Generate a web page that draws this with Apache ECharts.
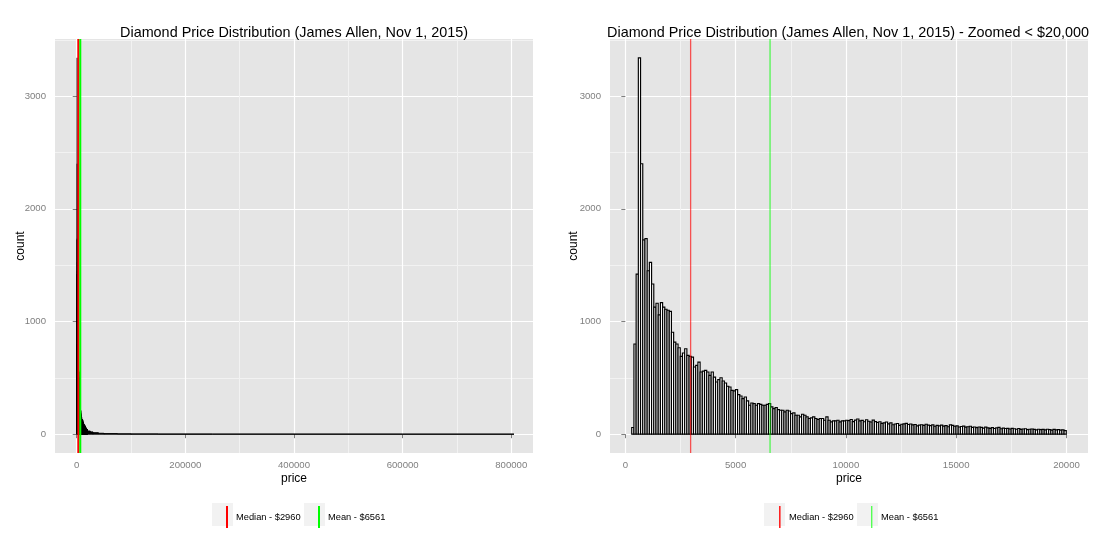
<!DOCTYPE html>
<html><head><meta charset="utf-8">
<script src="https://cdn.jsdelivr.net/npm/echarts@6/dist/echarts.min.js"></script>
<style>html,body{margin:0;padding:0;background:#fff}#c{width:1107px;height:552px}</style>
</head><body><div id="c"></div>
<script>
// ---- data ----
const BIN_ORIGIN = 290, BIN_WIDTH = 100;
// counts per $100 bin starting at BIN_ORIGIN (prices < $20,000)
const counts = [
  59, 800, 1420, 3340, 2400, 1725, 1735, 1450, 1525, 1333,
  1127, 1162, 1059, 1168, 1127, 1109, 1100, 1090, 905, 817,
  800, 767, 690, 720, 758, 700, 690, 684, 596, 610,
  640, 552, 560, 566, 552, 522, 552, 507, 463, 484,
  501, 472, 454, 425, 419, 389, 384, 395, 351, 339,
  316, 330, 295, 257, 277, 271, 257, 271, 265, 257,
  257, 265, 271, 242, 227, 236, 218, 212, 212, 198,
  212, 206, 183, 189, 168, 168, 153, 177, 168, 153,
  139, 145, 153, 139, 130, 139, 139, 124, 153, 124,
  109, 118, 118, 124, 109, 118, 118, 124,
  120, 130, 112, 125, 135, 118, 122, 110, 128, 115, 108, 125, 112,
  104, 110, 96, 100, 108, 92, 100, 84, 90, 95, 78, 88, 92, 96, 86,
  90, 82, 86, 74, 80, 84, 78, 88, 80, 76, 82, 70, 78, 74, 80,
  72, 76, 66, 82, 78, 70, 74, 64, 68, 72, 62, 66, 70, 60, 64,
  58, 64, 60, 54, 62, 56, 52, 58, 50, 56, 60, 48, 54, 50, 52,
  46, 52, 48, 44, 50, 42, 46, 48, 40, 44, 46, 42, 38, 44, 40,
  42, 38, 44, 40, 36, 42, 38, 40, 36, 38, 32
];
// tail of the full distribution (>= $20,000): segment edges and typical count per $100 bin
const tailEdges  = [19990, 25000, 30000, 40000, 50000, 75000, 100000, 150000, 250000, 400000, 600000, 805000];
const tailCounts = [28, 20, 13, 8, 5, 3, 2, 1, 0.5, 0.3, 0];
const MEDIAN = 2960, MEAN = 6561;
const medianLabel = 'Median - $2960', meanLabel = 'Mean - $6561';
const titleLeft  = 'Diamond Price Distribution (James Allen, Nov 1, 2015)';
const titleRight = 'Diamond Price Distribution (James Allen, Nov 1, 2015) - Zoomed < $20,000';
const leftXTicks  = [0, 200000, 400000, 600000, 800000];
const leftXMinor  = [100000, 300000, 500000, 700000];
const rightXTicks = [0, 5000, 10000, 15000, 20000];
const rightXMinor = [2500, 7500, 12500, 17500];
const yTicks = [0, 1000, 2000, 3000];
const yMinor = [500, 1500, 2500, 3500];

// ---- layout / style ----
const Y_MIN = -167, Y_MAX = 3507;
const LX = [-40000, 840000], RX = [-695, 20975];
const FONT = 'Liberation Sans';
const GREY_TXT = '#7f7f7f';
const plain = v => String(v);

const binData = counts.map((c, i) => [BIN_ORIGIN + i * BIN_WIDTH, BIN_ORIGIN + (i + 1) * BIN_WIDTH, c]);
const tailData = tailCounts.map((c, i) => [tailEdges[i], tailEdges[i + 1], c]);

function makeRender(fill, stroke, lw) {
  return function (params, api) {
    const s = api.coord([api.value(0), 0]);
    const e = api.coord([api.value(1), api.value(2)]);
    return { type: 'rect', shape: { x: s[0], y: e[1], width: e[0] - s[0], height: s[1] - e[1] },
             style: { fill: fill, stroke: stroke, lineWidth: lw } };
  };
}

function majorX(gi, range, ticks) {
  return { type: 'value', gridIndex: gi, min: range[0], max: range[1], name: 'price',
    nameLocation: 'middle', nameGap: 20, nameMoveOverlap: false,
    nameTextStyle: { color: '#000', fontSize: 12, fontFamily: FONT },
    axisLine: { show: false },
    axisTick: { show: true, length: 4, customValues: ticks, lineStyle: { color: GREY_TXT, width: 1 } },
    axisLabel: { customValues: ticks, formatter: plain, color: GREY_TXT, fontSize: 9.6, fontFamily: FONT, margin: 7 },
    splitLine: { show: true, lineStyle: { color: '#ffffff', width: 1.2 } } };
}
function minorX(gi, range, ticks) {
  return { type: 'value', gridIndex: gi, min: range[0], max: range[1],
    axisLine: { show: false }, axisLabel: { show: false },
    axisTick: { show: false, customValues: ticks },
    splitLine: { show: true, lineStyle: { color: '#f2f2f2', width: 1 } } };
}
function majorY(gi, gap) {
  return { type: 'value', gridIndex: gi, min: Y_MIN, max: Y_MAX, name: 'count',
    nameLocation: 'middle', nameGap: gap, nameRotate: 90, nameMoveOverlap: false,
    nameTextStyle: { color: '#000', fontSize: 12, fontFamily: FONT },
    axisLine: { show: false },
    axisTick: { show: true, length: 4, customValues: yTicks, lineStyle: { color: GREY_TXT, width: 1 } },
    axisLabel: { customValues: yTicks, formatter: plain, color: GREY_TXT, fontSize: 9.6, fontFamily: FONT, margin: 9 },
    splitLine: { show: true, lineStyle: { color: '#ffffff', width: 1.2 } } };
}
function minorY(gi) {
  return { type: 'value', gridIndex: gi, min: Y_MIN, max: Y_MAX,
    axisLine: { show: false }, axisLabel: { show: false },
    axisTick: { show: false, customValues: yMinor },
    splitLine: { show: true, lineStyle: { color: '#f2f2f2', width: 1 } } };
}
function vline(name, x, xi, yi, color, w) {
  return { type: 'line', name: name, xAxisIndex: xi, yAxisIndex: yi, data: [[x, Y_MIN], [x, Y_MAX]],
    showSymbol: false, symbol: 'none', silent: true, z: 10, animation: false,
    emphasis: { disabled: true },
    lineStyle: { color: color, width: w, opacity: 1 }, itemStyle: { color: color } };
}
function legendItem(name, left, color, w) {
  return { show: true, left: left, top: 501, orient: 'horizontal', selectedMode: false,
    data: [{ name: name, icon: 'rect', itemStyle: { color: color, borderWidth: 0 } }],
    itemStyle: { borderWidth: 0 },
    itemWidth: w, itemHeight: 22, itemGap: 0,
    textStyle: { fontSize: 9.3, fontFamily: FONT, color: '#000', padding: [0, 0, 0, 5 - w] } };
}
function keyBg(x) {
  return { type: 'rect', left: x, top: 503, shape: { width: 21, height: 23 }, style: { fill: '#f2f2f2' }, z: -1 };
}

const chart = echarts.init(document.getElementById('c'), null, { renderer: 'canvas' });
chart.setOption({
  animation: false,
  textStyle: { fontFamily: FONT },
  title: [
    { text: titleLeft, left: 289, top: 21, textAlign: 'center',
      textStyle: { fontSize: 14.4, fontWeight: 'normal', color: '#000', fontFamily: FONT } },
    { text: titleRight, left: 843, top: 21, textAlign: 'center',
      textStyle: { fontSize: 14.4, fontWeight: 'normal', color: '#000', fontFamily: FONT } }
  ],
  grid: [
    { left: 55, right: 1107 - 533, top: 39, bottom: 552 - 453, show: true, backgroundColor: '#e5e5e5', borderWidth: 0 },
    { left: 610, right: 1107 - 1088, top: 39, bottom: 552 - 453, show: true, backgroundColor: '#e5e5e5', borderWidth: 0 }
  ],
  xAxis: [ majorX(0, LX, leftXTicks), minorX(0, LX, leftXMinor), majorX(1, RX, rightXTicks), minorX(1, RX, rightXMinor) ],
  yAxis: [ majorY(0, 28), minorY(0), majorY(1, 30), minorY(1) ],
  legend: [
    legendItem(medianLabel, 221, '#ff0000', 2),
    legendItem(meanLabel, 313, '#00ff00', 2),
    legendItem(medianLabel, 774, '#ff2222', 1.6),
    legendItem(meanLabel, 866, '#55ff55', 1.4)
  ],
  graphic: [ keyBg(212), keyBg(304), keyBg(764), keyBg(857) ],
  series: [
    { type: 'custom', name: 'hist-full', xAxisIndex: 0, yAxisIndex: 0, data: binData,
      encode: { x: [0, 1], y: 2 }, renderItem: makeRender('#000', '#000', 0.6), silent: true, z: 2 },
    { type: 'custom', name: 'tail-full', xAxisIndex: 0, yAxisIndex: 0, data: tailData,
      encode: { x: [0, 1], y: 2 }, renderItem: makeRender('#000', '#000', 1), silent: true, z: 2 },
    { type: 'custom', name: 'hist-zoom', xAxisIndex: 2, yAxisIndex: 2, data: binData,
      encode: { x: [0, 1], y: 2 }, renderItem: makeRender('#ffffff', '#000', 1.15), silent: true, z: 2 },
    vline(medianLabel, MEDIAN, 0, 0, '#ff0000', 2),
    vline(meanLabel, MEAN, 0, 0, '#00ff00', 2),
    vline(medianLabel, MEDIAN, 2, 2, 'rgba(255,0,0,0.65)', 1.3),
    vline(meanLabel, MEAN, 2, 2, 'rgba(0,255,0,0.65)', 1.3)
  ]
});
</script></body></html>
